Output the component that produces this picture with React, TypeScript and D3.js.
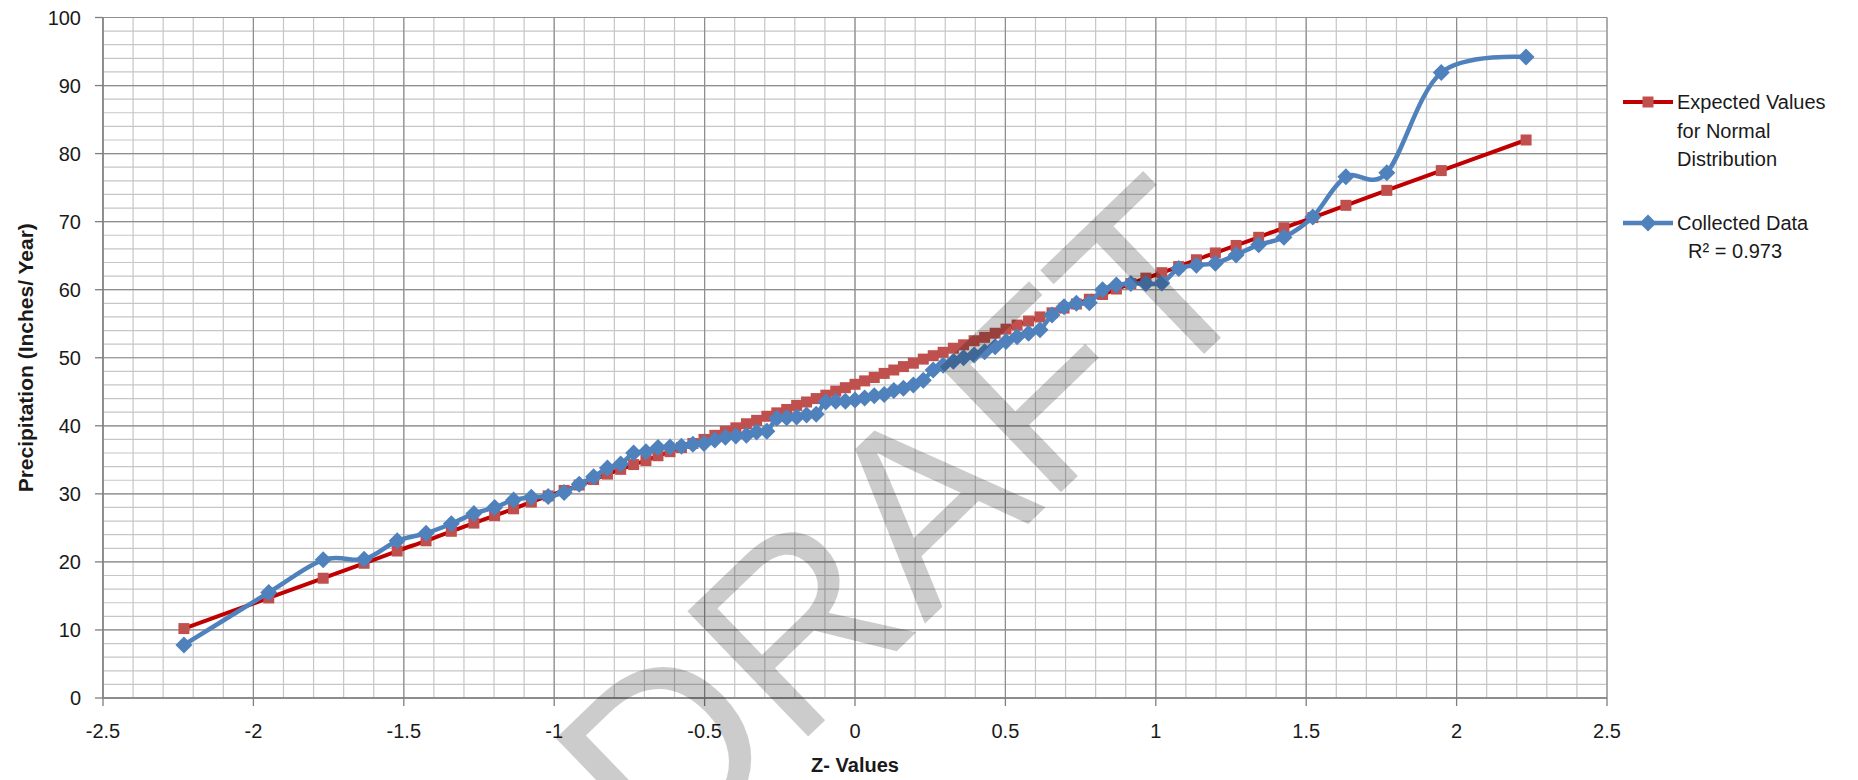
import React from 'react';
import * as d3 from 'd3';

// Z-values (normal scores) shared by both series
const zValues = [
  -2.231, -1.949, -1.768, -1.632, -1.522, -1.426, -1.342, -1.267, -1.198, -1.135,
  -1.076, -1.020, -0.967, -0.917, -0.869, -0.823, -0.779, -0.736, -0.695, -0.655,
  -0.615, -0.577, -0.539, -0.502, -0.466, -0.431, -0.396, -0.361, -0.327, -0.293,
  -0.260, -0.227, -0.194, -0.161, -0.129, -0.097, -0.064, -0.032, 0,
  0.032, 0.064, 0.097, 0.129, 0.161, 0.194, 0.227, 0.260, 0.293, 0.327,
  0.361, 0.396, 0.431, 0.466, 0.502, 0.539, 0.577, 0.615, 0.655, 0.695,
  0.736, 0.779, 0.823, 0.869, 0.917, 0.967, 1.020, 1.076, 1.135, 1.198,
  1.267, 1.342, 1.426, 1.522, 1.632, 1.768, 1.949, 2.231,
];

// Expected Values for Normal Distribution
const expectedValues = [
  10.2, 14.7, 17.6, 19.8, 21.6, 23.1, 24.5, 25.7, 26.8, 27.8,
  28.8, 29.7, 30.5, 31.3, 32.1, 32.9, 33.6, 34.3, 34.9, 35.6,
  36.2, 36.8, 37.4, 38.0, 38.6, 39.2, 39.7, 40.3, 40.8, 41.4,
  41.9, 42.4, 43.0, 43.5, 44.0, 44.5, 45.1, 45.6, 46.1,
  46.6, 47.1, 47.7, 48.2, 48.7, 49.2, 49.8, 50.3, 50.8, 51.4,
  51.9, 52.5, 53.0, 53.6, 54.2, 54.8, 55.4, 56.0, 56.6, 57.3,
  57.9, 58.6, 59.3, 60.1, 60.9, 61.7, 62.5, 63.4, 64.4, 65.4,
  66.5, 67.7, 69.1, 70.6, 72.4, 74.6, 77.5, 82.0,
];

// Collected Data (precipitation, inches/year)
const collectedValues = [
  7.8, 15.5, 20.3, 20.4, 23.1, 24.2, 25.6, 27.1, 28.0, 29.1,
  29.5, 29.6, 30.2, 31.4, 32.5, 33.8, 34.4, 36.0, 36.2, 36.8,
  36.9, 37.0, 37.3, 37.4, 37.9, 38.3, 38.5, 38.6, 39.1, 39.2,
  41.1, 41.2, 41.3, 41.6, 41.7, 43.5, 43.6, 43.6, 43.8,
  44.1, 44.4, 44.6, 45.2, 45.5, 46.0, 46.7, 48.2, 48.9, 49.5,
  50.0, 50.4, 50.9, 51.6, 52.4, 53.1, 53.6, 54.1, 56.3, 57.5,
  58.0, 58.1, 60.0, 60.7, 60.9, 60.9, 61.0, 63.1, 63.6, 63.9,
  65.1, 66.6, 67.7, 70.7, 76.6, 77.2, 91.9, 94.2,
];

const xTicks = [-2.5, -2, -1.5, -1, -0.5, 0, 0.5, 1, 1.5, 2, 2.5];
const yTicks = [0, 10, 20, 30, 40, 50, 60, 70, 80, 90, 100];
const xTitle = 'Z- Values';
const yTitle = 'Precipitation (Inches/ Year)';
const expectedLabel = ['Expected Values', 'for Normal', 'Distribution'];
const collectedLabel = ['Collected Data', '  R\u00B2 = 0.973'];
const watermark = 'DRAFT';

const RED_LINE = '#c00000';
const RED_MARK = '#c0504d';
const BLUE = '#4f81bd';
const FONT = '"Liberation Sans", Arial, sans-serif';

export default function App() {
  const W = 1858;
  const H = 780;
  const x = d3.scaleLinear().domain([-2.5, 2.5]).range([103, 1607]);
  const y = d3.scaleLinear().domain([0, 100]).range([698, 17.5]);

  const minorX = d3.range(-25, 26).map((i) => i / 10);
  const minorY = d3.range(0, 101, 2);

  const redPts: [number, number][] = zValues.map((z, i) => [x(z), y(expectedValues[i])]);
  const bluePts: [number, number][] = zValues.map((z, i) => [x(z), y(collectedValues[i])]);
  const lineGen = d3.line().curve(d3.curveCardinal.tension(0));
  const redPath = lineGen(redPts) || '';
  const bluePath = lineGen(bluePts) || '';

  const sq = 5.5;
  const dm = 8.5;
  const diamond = (cx: number, cy: number) =>
    `M${cx},${cy - dm}L${cx + dm},${cy}L${cx},${cy + dm}L${cx - dm},${cy}Z`;

  const x0 = x(-2.5), x1 = x(2.5), y0 = y(0), y1 = y(100);

  return (
    <svg
      width={W}
      height={H}
      style={{ position: 'absolute', left: 0, top: 0, display: 'block', background: '#fff' }}
      fontFamily={FONT}
    >
      <rect x={0} y={0} width={W} height={H} fill="#fff" />
      {/* minor grid */}
      <g stroke="#c6c6c6" strokeWidth={1.2}>
        {minorX.map((v) => (
          <line key={'mx' + v} x1={x(v)} x2={x(v)} y1={y1} y2={y0} />
        ))}
        {minorY.map((v) => (
          <line key={'my' + v} x1={x0} x2={x1} y1={y(v)} y2={y(v)} />
        ))}
      </g>
      {/* major grid */}
      <g stroke="#8e8e8e" strokeWidth={1.2}>
        {xTicks.map((v) => (
          <line key={'Mx' + v} x1={x(v)} x2={x(v)} y1={y1} y2={y0} />
        ))}
        {yTicks.map((v) => (
          <line key={'My' + v} x1={x0} x2={x1} y1={y(v)} y2={y(v)} />
        ))}
      </g>
      {/* axes */}
      <g stroke="#7f7f7f" strokeWidth={1.3}>
        <line x1={x0} x2={x0} y1={y1} y2={y0} />
        <line x1={x0} x2={x1} y1={y0} y2={y0} />
        {yTicks.map((v) => (
          <line key={'ty' + v} x1={x0 - 8} x2={x0} y1={y(v)} y2={y(v)} />
        ))}
        {xTicks.map((v) => (
          <line key={'tx' + v} x1={x(v)} x2={x(v)} y1={y0} y2={y0 + 8} />
        ))}
      </g>
      {/* tick labels */}
      <g fontSize={20} fill="#1a1a1a">
        {yTicks.map((v) => (
          <text key={'ly' + v} x={81} y={y(v)} textAnchor="end" dominantBaseline="central">
            {v}
          </text>
        ))}
        {xTicks.map((v) => (
          <text key={'lx' + v} x={x(v)} y={731} textAnchor="middle" dominantBaseline="central">
            {v}
          </text>
        ))}
      </g>
      {/* axis titles */}
      <text x={855} y={765} textAnchor="middle" dominantBaseline="central" fontSize={20} fontWeight="bold" fill="#1a1a1a">
        {xTitle}
      </text>
      <text
        transform={`translate(25,${(y0 + y1) / 2}) rotate(-90)`}
        textAnchor="middle"
        dominantBaseline="central"
        fontSize={21}
        fontWeight="bold"
        fill="#1a1a1a"
      >
        {yTitle}
      </text>

      {/* Expected series */}
      <path d={redPath} fill="none" stroke={RED_LINE} strokeWidth={4} />
      {redPts.map(([cx, cy], i) => (
        <rect key={'rp' + i} x={cx - sq} y={cy - sq} width={sq * 2} height={sq * 2} fill={RED_MARK} />
      ))}
      {/* Collected series */}
      <path d={bluePath} fill="none" stroke={BLUE} strokeWidth={4.5} />
      {bluePts.map(([cx, cy], i) => (
        <path key={'bp' + i} d={diamond(cx, cy)} fill={BLUE} />
      ))}

      {/* watermark */}
      <text
        transform="translate(965,585) rotate(-44)"
        textAnchor="middle"
        fontSize={253}
        fill="#000"
        fillOpacity={0.2}
      >
        {watermark}
      </text>

      {/* legend */}
      <g>
        <line x1={1623} x2={1673} y1={102} y2={102} stroke={RED_LINE} strokeWidth={4} />
        <rect x={1648 - sq} y={102 - sq} width={sq * 2} height={sq * 2} fill={RED_MARK} />
        <line x1={1623} x2={1673} y1={223} y2={223} stroke={BLUE} strokeWidth={4.5} />
        <path d={diamond(1648, 223)} fill={BLUE} />
        <g fontSize={20} fill="#1a1a1a">
          {expectedLabel.map((t, i) => (
            <text key={'el' + i} x={1677} y={102 + i * 28.7} dominantBaseline="central">
              {t}
            </text>
          ))}
          {collectedLabel.map((t, i) => (
            <text key={'cl' + i} x={1677} y={223 + i * 27.5} dominantBaseline="central" style={{ whiteSpace: 'pre' }}>
              {t}
            </text>
          ))}
        </g>
      </g>
    </svg>
  );
}
